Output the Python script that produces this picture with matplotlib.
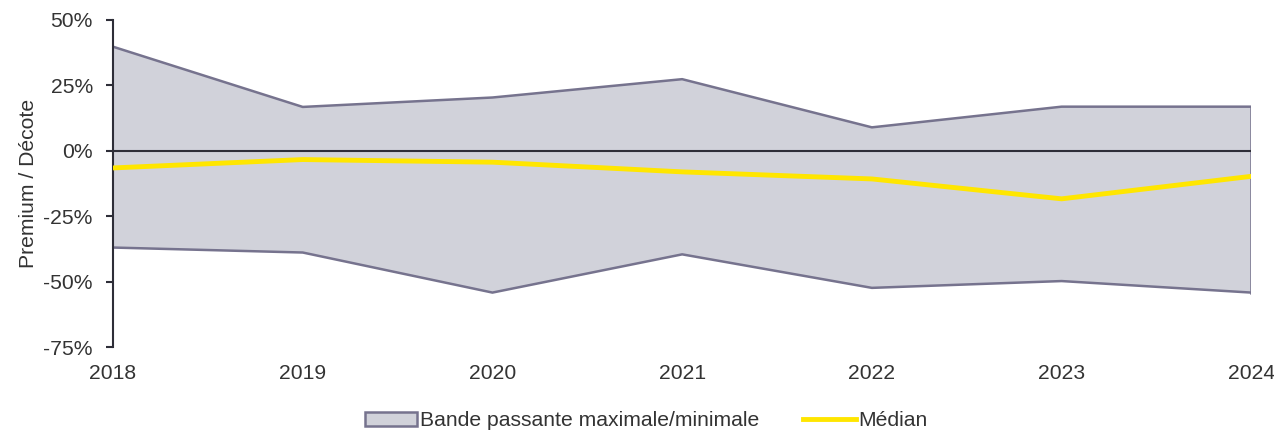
import matplotlib.pyplot as plt
from matplotlib.patches import Patch
from matplotlib.lines import Line2D
from matplotlib.ticker import FuncFormatter

plt.rcParams['font.family'] = ['Liberation Sans', 'DejaVu Sans']

years = [2018, 2019, 2020, 2021, 2022, 2023, 2024]
band_max = [39.8, 16.8, 20.4, 27.4, 9.0, 16.9, 16.9]
band_min = [-36.9, -38.8, -54.1, -39.5, -52.3, -49.7, -54.1]
median = [-6.5, -3.3, -4.3, -8.0, -10.7, -18.3, -9.7]

fill_col = '#d1d2da'
edge_col = '#76738e'
yellow = '#ffe600'
dark = '#2e2e38'
txt = '#333333'
fs = 15.2

fig = plt.figure(figsize=(12.74, 4.30), dpi=100)
ax = fig.add_axes([0.0887, 0.1923, 0.8935, 0.7612])

# min/max band as a closed polygon
ax.fill_between(years, band_min, band_max, facecolor=fill_col, edgecolor='none', zorder=1)
ax.plot(years, band_max, color=edge_col, lw=1.8, zorder=2)
ax.plot(years, band_min, color=edge_col, lw=1.8, zorder=2)
ax.plot([years[-1], years[-1]], [band_min[-1], band_max[-1]], color=edge_col, lw=1.8, zorder=2)

ax.axhline(0, color=dark, lw=1.5, zorder=3)
ax.plot(years, median, color=yellow, lw=3.5, zorder=4, solid_capstyle='butt')

ax.set_xlim(2018, 2024)
ax.set_ylim(-75, 50)
ax.set_xticks(years)
ax.set_yticks([-75, -50, -25, 0, 25, 50])
ax.yaxis.set_major_formatter(FuncFormatter(lambda v, p: f'{int(v)}%'))

for s in ['top', 'right', 'bottom']:
    ax.spines[s].set_visible(False)
ax.spines['left'].set_color(dark)
ax.spines['left'].set_linewidth(1.5)
ax.tick_params(axis='y', length=5, width=1.5, color=dark, labelsize=fs, labelcolor=txt, pad=9.5)
ax.tick_params(axis='x', length=0, labelsize=fs, labelcolor=txt, pad=12)
ax.set_ylabel('Premium / Décote', fontsize=fs, color=txt, labelpad=4)

handles = [
    Patch(facecolor=fill_col, edgecolor=edge_col, linewidth=1.8),
    Line2D([0], [0], color=yellow, lw=3.5),
]
labels = ['Bande passante maximale/minimale', 'Médian']
fig.legend(handles, labels, loc='lower center', bbox_to_anchor=(0.507, -0.045), ncol=2,
           frameon=False, fontsize=fs, handlelength=2.5, handletextpad=0.1,
           columnspacing=2.1, labelcolor=txt)

fig.savefig('out.png', dpi=100)
